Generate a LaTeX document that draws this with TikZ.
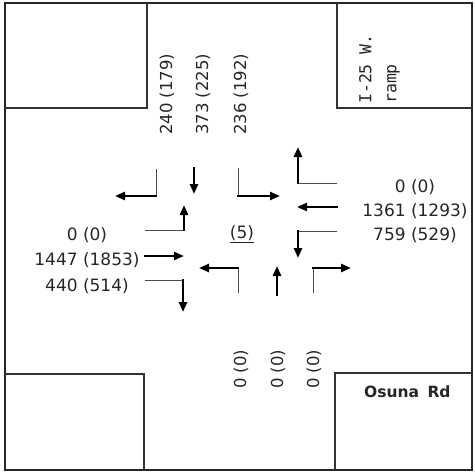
\documentclass[tikz,border=0pt]{standalone}
\usepackage{fontspec}
\setmainfont{DejaVu Sans}
\newfontfamily\monofont{DejaVu Sans Mono}
\usetikzlibrary{arrows.meta}
\tikzset{
  frameline/.style={line width=1.5pt, draw=black!85},
  blockline/.style={line width=1.2pt, draw=black!80},
  thinline/.style={line width=1pt, draw=black!70},
  mvarrow/.style={line width=2.7pt, draw=black, -{Triangle[length=10pt,width=8pt]}, shorten <=-0.7pt},
  hlabel/.style={inner sep=0pt, font=\fontsize{17}{17}\selectfont, text=black!85},
  vlabel/.style={inner sep=0pt, rotate=90, anchor=west, font=\fontsize{16.5}{16.5}\selectfont, text=black!85},
}
\begin{document}
\begin{tikzpicture}[x=1pt,y=-1pt]
\useasboundingbox (0,0) rectangle (475,472);
% frame and corner blocks
\draw[frameline] (5,3) rectangle (472,470);
\draw[blockline] (5,108) -- (147,108) -- (147,3);
\draw[blockline] (337,3) -- (337,108) -- (472,108);
\draw[blockline] (5,374) -- (144,374) -- (144,470);
\draw[blockline] (335,470) -- (335,373) -- (472,373);
% street names
\node[inner sep=0pt, rotate=90, anchor=north west, align=left,
      font=\monofont\fontsize{16.5}{25}\selectfont, text=black!85] (ramp) at (359,104) {I-25 W.\\ramp};
\node[inner sep=0pt, anchor=west, font=\bfseries\fontsize{15.5}{15.5}\selectfont, text=black!85] (osuna) at (364,392) {Osuna\hspace{3pt} Rd};
% southbound volumes
\node[vlabel] (sbl) at (167,135) {240 (179)};
\node[vlabel] (sbt) at (203,135) {373 (225)};
\node[vlabel] (sbr) at (241,135) {236 (192)};
% northbound volumes
\node[vlabel] (nbl) at (241,389) {0 (0)};
\node[vlabel] (nbt) at (278,389) {0 (0)};
\node[vlabel] (nbr) at (314,389) {0 (0)};
% eastbound volumes
\node[hlabel] (ebl) at (87,235) {0 (0)};
\node[hlabel] (ebt) at (87,260) {1447 (1853)};
\node[hlabel] (ebr) at (87,286) {440 (514)};
% westbound volumes
\node[hlabel] (wbl) at (415,187) {0 (0)};
\node[hlabel] (wbt) at (415,211) {1361 (1293)};
\node[hlabel] (wbr) at (415,235) {759 (529)};
% center
\node[hlabel] (ped) at (242,233) {(5)};
\draw[line width=1.3pt, black!85] ([yshift=-1.5pt]ped.south west) -- ([yshift=-1.5pt]ped.south east);
% coordinates of movement arrows
\coordinate (sblA) at (156,169); \coordinate (sblB) at (156,196); \coordinate (sblC) at (115,196);
\coordinate (sbtA) at (194,168); \coordinate (sbtC) at (194,194);
\coordinate (sbrA) at (238,168); \coordinate (sbrB) at (238,196); \coordinate (sbrC) at (280,196);
\coordinate (eblA) at (145,230); \coordinate (eblB) at (184,230); \coordinate (eblC) at (184,205);
\coordinate (ebtA) at (145,256); \coordinate (ebtC) at (184,256);
\coordinate (ebrA) at (145,280); \coordinate (ebrB) at (183,280); \coordinate (ebrC) at (183,312);
\coordinate (wblA) at (337,183); \coordinate (wblB) at (298,183); \coordinate (wblC) at (298,147);
\coordinate (wbtA) at (337,207); \coordinate (wbtC) at (297,207);
\coordinate (wbrA) at (337,231); \coordinate (wbrB) at (298,231); \coordinate (wbrC) at (298,258);
\coordinate (nblA) at (238,293); \coordinate (nblB) at (238,268); \coordinate (nblC) at (199,268);
\coordinate (nbtA) at (277,295); \coordinate (nbtC) at (277,266);
\coordinate (nbrA) at (313,293); \coordinate (nbrB) at (313,268); \coordinate (nbrC) at (351,268);
% thin approach legs
\foreach \m in {sbl,sbr,ebl,ebr,wbl,wbr,nbl,nbr}
  \draw[thinline] (\m A) -- (\m B);
% thick movement arrows
\foreach \m in {sbl,sbr,ebl,ebr,wbl,wbr,nbl,nbr}
  \draw[mvarrow] (\m B) -- (\m C);
\foreach \m in {sbt,ebt,wbt,nbt}
  \draw[mvarrow] (\m A) -- (\m C);
\end{tikzpicture}
\end{document}
